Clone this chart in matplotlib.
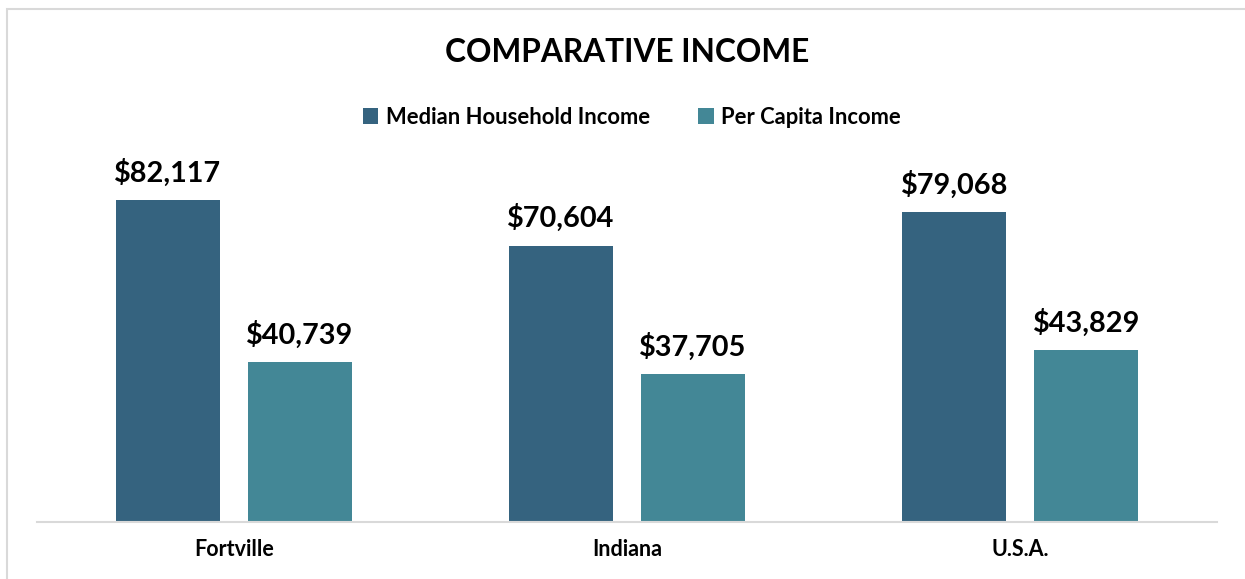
import matplotlib
matplotlib.use("Agg")
import matplotlib.pyplot as plt
from matplotlib.patches import Rectangle
import numpy as np

categories = ["Fortville", "Indiana", "U.S.A."]
median_household = [82117, 70604, 79068]
per_capita = [40739, 37705, 43829]
series_names = ["Median Household Income", "Per Capita Income"]
colors = ["#35637f", "#438796"]

plt.rcParams['font.family'] = ['Lato', 'DejaVu Sans']

W, H = 1245, 579
fig = plt.figure(figsize=(W / 100, H / 100), dpi=100)
ax = fig.add_axes([37 / W, 1 - 522 / H, 1180 / W, (522 - 150) / H])

x = np.arange(len(categories))
bw = 0.2644
off = 0.1678
b1 = ax.bar(x - off, median_household, bw, color=colors[0], label=series_names[0])
b2 = ax.bar(x + off, per_capita, bw, color=colors[1], label=series_names[1])

for bars, vals in ((b1, median_household), (b2, per_capita)):
    for r, v in zip(bars, vals):
        ax.annotate(f"${v:,.0f}", (r.get_x() + r.get_width() / 2, v),
                    xytext=(0, 10), textcoords="offset points",
                    ha="center", va="bottom", fontsize=20.8, fontweight="bold",
                    color="#000000")

ax.set_xlim(-0.5, 2.5)
ax.set_ylim(0, 95000)
ax.set_yticks([])
ax.set_xticks(x)
ax.set_xticklabels(categories, fontsize=15.5, fontweight="bold")
ax.tick_params(axis="x", length=0, pad=12)
for s in ["top", "right", "left"]:
    ax.spines[s].set_visible(False)
ax.spines["bottom"].set_color("#d9d9d9")
ax.spines["bottom"].set_linewidth(1.5)

fig.text(627 / W, 1 - 53 / H, "COMPARATIVE INCOME", ha="center", va="center",
         fontsize=22.8, fontweight="bold")

leg = fig.legend(handles=[b1, b2], labels=series_names, loc="center",
                 bbox_to_anchor=(632 / W, 1 - 117 / H), ncol=2, frameon=False,
                 prop={"size": 15.8, "weight": "bold"}, handlelength=0.7,
                 handleheight=0.7, handletextpad=0.35, columnspacing=2.2)

fig.add_artist(Rectangle((7 / W, -0.2), 2.0, 1.2 - 9 / H, transform=fig.transFigure,
                         fill=False, edgecolor="#d9d9d9", linewidth=1.5))

fig.savefig("out.png", dpi=100)
